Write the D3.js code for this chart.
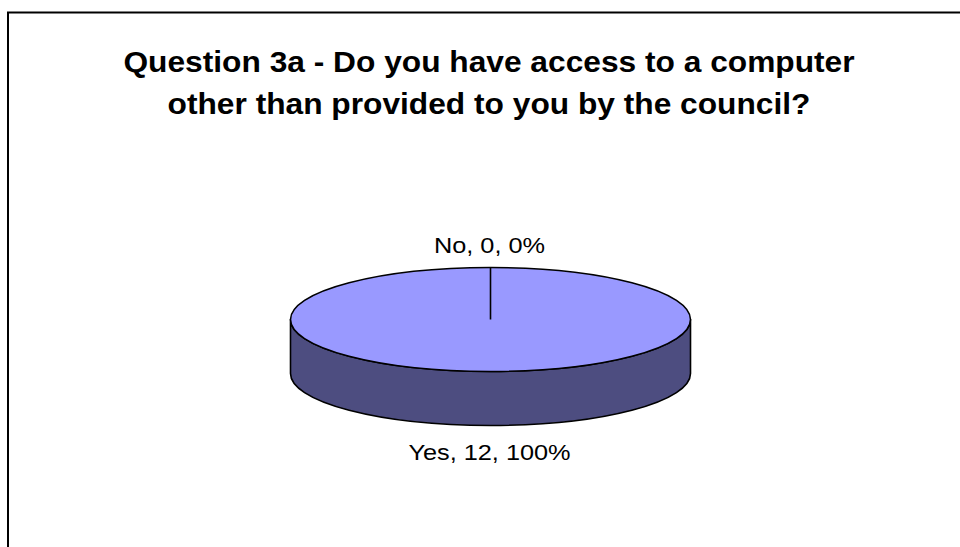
<!DOCTYPE html>
<html>
<head>
<meta charset="utf-8">
<script src="https://cdn.jsdelivr.net/npm/d3@7"></script>
<style>
  html, body { margin: 0; padding: 0; background: #fff; }
  svg { display: block; }
</style>
</head>
<body>
<svg id="chart" width="960" height="547"></svg>
<script>
// Survey answers
const categories = ["Yes", "No"];
const counts = [12, 0];
const titleLines = [
  "Question 3a - Do you have access to a computer",
  "other than provided to you by the council?"
];
const sliceColors = ["#9999FF", "#993366"];
const sideColors = ["#4D4D80", "#4D1A33"];

const svg = d3.select("#chart");
const FONT = "'Liberation Sans', Arial, sans-serif";

// Chart frame
svg.append("rect")
  .attr("x", 8).attr("y", 12.5)
  .attr("width", 1000).attr("height", 600)
  .attr("fill", "#fff").attr("stroke", "#000").attr("stroke-width", 2);

// Title (glyphs drawn slightly wide)
const titleX = 489, titleSX = 1.057;
const title = svg.append("g")
  .attr("transform", `translate(${titleX},0) scale(${titleSX},1)`)
  .append("text")
  .attr("text-anchor", "middle")
  .attr("font-family", FONT)
  .attr("font-weight", "bold")
  .attr("font-size", 30)
  .attr("fill", "#000");
titleLines.forEach((t, i) => {
  title.append("tspan").attr("x", 0).attr("y", 72 + i * 42).text(t);
});

// 3D pie geometry
const cx = 490.5, cy = 319.5, rx = 200, ry = 52, depth = 54;
const total = d3.sum(counts);
const data = categories.map((c, i) => ({ label: c, value: counts[i], i }));
const pie = d3.pie().value(d => d.value).sort(null).startAngle(0).endAngle(2 * Math.PI);
const arcs = pie(data);

// angle 0 at top, clockwise, projected onto the tilted ellipse
const px = a => cx + rx * Math.sin(a);
const py = (a, dz = 0) => cy - ry * Math.cos(a) + dz;

function topPath(d) {
  const span = d.endAngle - d.startAngle;
  if (span <= 0) return null;
  if (span >= 2 * Math.PI - 1e-9) {
    return `M${px(0)},${py(0)} A${rx},${ry} 0 1 1 ${px(Math.PI)},${py(Math.PI)} A${rx},${ry} 0 1 1 ${px(0)},${py(0)} Z`;
  }
  const large = span > Math.PI ? 1 : 0;
  return `M${cx},${cy} L${px(d.startAngle)},${py(d.startAngle)} A${rx},${ry} 0 ${large} 1 ${px(d.endAngle)},${py(d.endAngle)} Z`;
}

// visible (front) part of the side wall: angles between PI/2 and 3PI/2
function sidePath(d) {
  const a0 = Math.max(d.startAngle, Math.PI / 2);
  const a1 = Math.min(d.endAngle, 3 * Math.PI / 2);
  if (a1 <= a0) return null;
  const large = (a1 - a0) > Math.PI ? 1 : 0;
  return `M${px(a0)},${py(a0)} A${rx},${ry} 0 ${large} 1 ${px(a1)},${py(a1)}` +
         ` L${px(a1)},${py(a1, depth)} A${rx},${ry} 0 ${large} 0 ${px(a0)},${py(a0, depth)} Z`;
}

const g = svg.append("g");

g.selectAll("path.side").data(arcs).join("path")
  .attr("class", "side")
  .attr("d", sidePath)
  .attr("fill", d => sideColors[d.data.i])
  .attr("stroke", "#000").attr("stroke-width", 1.6)
  .attr("stroke-linejoin", "round");

g.selectAll("path.top").data(arcs).join("path")
  .attr("class", "top")
  .attr("d", topPath)
  .attr("fill", d => sliceColors[d.data.i])
  .attr("stroke", "#000").attr("stroke-width", 1.6)
  .attr("stroke-linejoin", "round");

// slice boundaries
const bounds = Array.from(new Set(arcs.map(d => d.startAngle % (2 * Math.PI))));
g.selectAll("line.edge").data(bounds).join("line")
  .attr("class", "edge")
  .attr("x1", cx).attr("y1", cy)
  .attr("x2", a => px(a)).attr("y2", a => py(a))
  .attr("stroke", "#000").attr("stroke-width", 1.6);

// data labels: "Category, value, percent" (glyphs drawn wide)
const fmtPct = v => Math.round(v / total * 100) + "%";
const labelSX = 1.15;
svg.selectAll("g.lbl").data(arcs).join("g")
  .attr("class", "lbl")
  .attr("transform", d => {
    const mid = (d.startAngle + d.endAngle) / 2;
    const front = Math.cos(mid) < 0;
    const x = px(mid) - 1;
    const y = front ? py(mid, depth) + 34.7 : py(mid) - 14.5;
    return `translate(${x},${y}) scale(${labelSX},1)`;
  })
  .append("text")
  .attr("text-anchor", "middle")
  .attr("font-family", FONT)
  .attr("font-size", 22)
  .attr("fill", "#000")
  .text(d => `${d.data.label}, ${d.data.value}, ${fmtPct(d.data.value)}`);
</script>
</body>
</html>
